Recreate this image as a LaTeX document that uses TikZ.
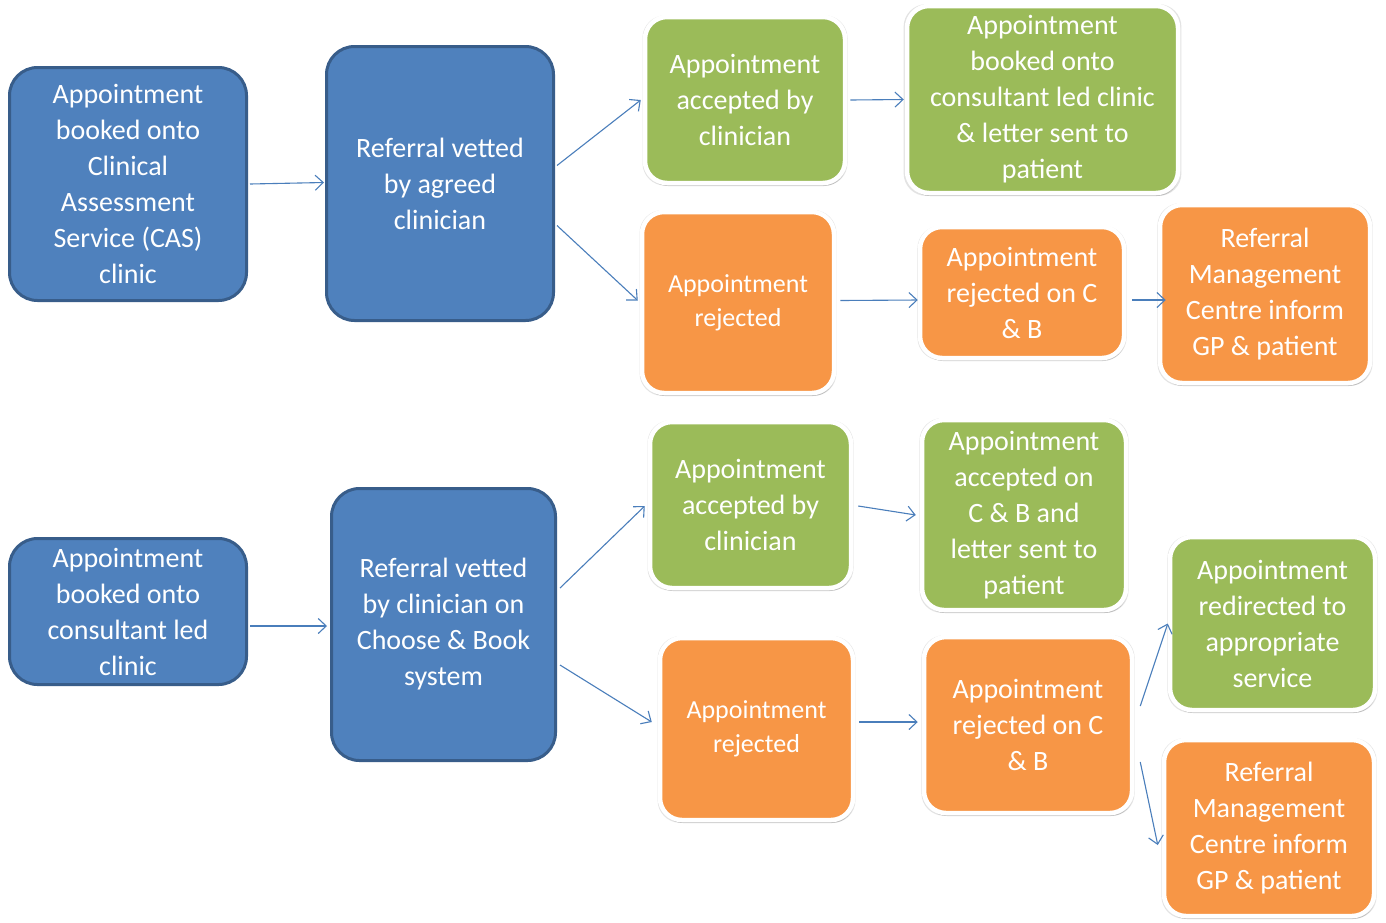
\documentclass[tikz,border=0pt]{standalone}
\usepackage{fontspec}
\setmainfont{Carlito}
\usetikzlibrary{arrows.meta,calc,shadows}
\definecolor{bfill}{HTML}{4F81BD}
\definecolor{bdraw}{HTML}{385D8A}
\definecolor{gfill}{HTML}{9BBB59}
\definecolor{ofill}{HTML}{F79646}
\definecolor{arr}{HTML}{4A7EBB}
\begin{document}
\begin{tikzpicture}[x=1pt,y=-1pt,
  box/.style={rectangle,align=center,text=white,inner sep=0pt,
    font=\fontsize{28}{36}\selectfont},
  bluebox/.style={box,fill=bfill,draw=bdraw,line width=3pt,rounded corners=28pt},
  wbox/.style={box,draw=white,line width=4.5pt,rounded corners=22pt,
    general shadow={shadow scale=1.025,shadow xshift=0pt,shadow yshift=-0.5pt,opacity=0.18,fill=black!60},
    drop shadow={shadow xshift=1pt,shadow yshift=-3pt,opacity=0.3,fill=black!60}},
  greenbox/.style={wbox,fill=gfill},
  orangebox/.style={wbox,fill=ofill},
  small/.style={font=\fontsize{26}{34}\selectfont},
  conn/.style={draw=arr,line width=1.1pt,-{Straight Barb[length=8pt,width=15pt]}}
]
\useasboundingbox[fill=white] (0,0) rectangle (1386,922);

% top flow
\node[bluebox,minimum width=237pt,minimum height=233pt] (b1) at (128,184)
  {Appointment\\booked onto\\Clinical\\Assessment\\Service (CAS)\\clinic};
\node[bluebox,minimum width=227pt,minimum height=274pt] (b2) at (440,183.5)
  {Referral vetted\\by agreed\\clinician};
\node[greenbox,minimum width=200pt,minimum height=166pt] (g1) at (745,100)
  {Appointment\\accepted by\\clinician};
\node[greenbox,minimum width=271pt,minimum height=187pt] (g2) at (1042.5,99.5)
  {Appointment\\booked onto\\consultant led clinic\\\& letter sent to\\patient};
\node[orangebox,small,minimum width=192pt,minimum height=181pt] (o1) at (738,302.5)
  {Appointment\\rejected};
\node[orangebox,minimum width=204pt,minimum height=131pt] (o2) at (1022,292.5)
  {Appointment\\rejected on C\\\& B};
\node[orangebox,minimum width=210pt,minimum height=178pt] (o3) at (1265,294)
  {Referral\\Management\\Centre inform\\GP \& patient};

% bottom flow
\node[bluebox,minimum width=237pt,minimum height=146pt] (b3) at (128,611.5)
  {Appointment\\booked onto\\consultant led\\clinic};
\node[bluebox,minimum width=224pt,minimum height=272pt] (b4) at (443.5,624.5)
  {Referral vetted\\by clinician on\\Choose \& Book\\system};
\node[greenbox,minimum width=201pt,minimum height=166pt] (g3) at (750.5,505)
  {Appointment\\accepted by\\clinician};
\node[greenbox,minimum width=204pt,minimum height=190pt] (g4) at (1024,515)
  {Appointment\\accepted on\\C \& B and\\letter sent to\\patient};
\node[orangebox,small,minimum width=193pt,minimum height=182pt] (o4) at (756.5,729)
  {Appointment\\rejected};
\node[orangebox,minimum width=208pt,minimum height=176pt] (o5) at (1028,725)
  {Appointment\\rejected on C\\\& B};
\node[greenbox,minimum width=205pt,minimum height=173pt] (g5) at (1272.5,623.5)
  {Appointment\\redirected to\\appropriate\\service};
\node[orangebox,minimum width=210pt,minimum height=176pt] (o6) at (1269,828)
  {Referral\\Management\\Centre inform\\GP \& patient};

% connectors top
\draw[conn] ($(b1.east)+(2,0)$) -- ($(b2.west)+(-1,-1)$);
\draw[conn] ($(b2.east)+(2,-18)$) -- ($(g1.west)+(-2,0)$);
\draw[conn] ($(b2.east)+(2,42)$) -- ($(o1.west)+(-2,-2)$);
\draw[conn] ($(g1.east)+(3,0)$) -- ($(g2.west)+(-1,0)$);
\draw[conn] ($(o1.east)+(4,-2)$) -- ($(o2.west)+(0,7.5)$);
\draw[conn] ($(o2.east)+(6,7.5)$) -- ($(o3.west)+(8,6)$);
% connectors bottom
\draw[conn] ($(b3.east)+(2,14.5)$) -- ($(b4.west)+(-3,1.5)$);
\draw[conn] ($(b4.east)+(3,-36.5)$) -- ($(g3.west)+(-3,1)$);
\draw[conn] ($(b4.east)+(3,40.5)$) -- ($(o4.west)+(-6,-7)$);
\draw[conn] ($(g3.east)+(5,1)$) -- ($(g4.west)+(-4,0)$);
\draw[conn] ($(o4.east)+(4,-7)$) -- ($(o5.west)+(-4,-3)$);
\draw[conn] ($(o5.east)+(6,-19)$) -- ($(g5.west)+(0,0)$);
\draw[conn] ($(o5.east)+(6,37)$) -- ($(o6.west)+(-4,17)$);
\end{tikzpicture}
\end{document}
